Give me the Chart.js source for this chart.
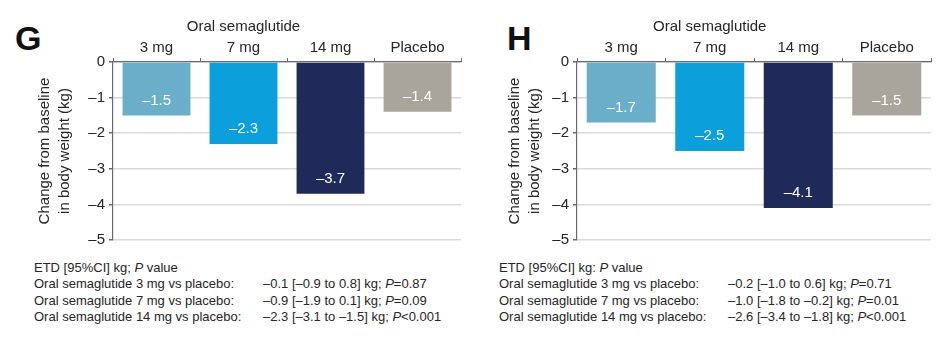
<!DOCTYPE html>
<html>
<head>
<meta charset="utf-8">
<script src="https://cdn.jsdelivr.net/npm/chart.js@4.4.1/dist/chart.umd.min.js"></script>
<style>
    html, body { margin: 0; padding: 0; background: #fff; }
    body { width: 940px; height: 343px; position: relative; overflow: hidden;
           font-family: 'Liberation Sans', Arial, sans-serif; color: #262626; }
    .panel { position: absolute; top: 0; width: 470px; height: 253px; }
    .letter { position: absolute; font-weight: bold; font-size: 34px; line-height: 34px; color: #111; }
    .etd { position: absolute; top: 260px; font-size: 13px; line-height: 16.3px; }
    .etd .row { white-space: nowrap; position: relative; }
    .etd .val { position: absolute; }
</style>
</head>
<body>
<div class="letter" style="left:15px; top:21px;">G</div>
<div class="letter" style="left:507px; top:21px;">H</div>
<div class="panel" style="left:0;"><canvas id="chart-g" width="470" height="253"></canvas></div>
<div class="panel" style="left:470px;"><canvas id="chart-h" width="470" height="253"></canvas></div>
<div class="etd" id="etd-g" style="left:34px;"></div>
<div class="etd" id="etd-h" style="left:499px;"></div>

<script>
const categories = ['3 mg', '7 mg', '14 mg', 'Placebo'];
const barColors = ['#6aaec9', '#0b9fdc', '#1f2a5b', '#a9a59c'];
const yTicks = [0, -1, -2, -3, -4, -5];

const valuesG = [-1.5, -2.3, -3.7, -1.4];
const valuesH = [-1.7, -2.5, -4.1, -1.5];

const etdHeaderG = 'ETD [95%CI] kg; <i>P</i> value';
const etdHeaderH = 'ETD [95%CI] kg: <i>P</i> value';
const etdLabels = [
    'Oral semaglutide 3 mg vs placebo:',
    'Oral semaglutide 7 mg vs placebo:',
    'Oral semaglutide 14 mg vs placebo:',
];
const etdValuesG = [
    '–0.1 [–0.9 to 0.8] kg; <i>P</i>=0.87',
    '–0.9 [–1.9 to 0.1] kg; <i>P</i>=0.09',
    '–2.3 [–3.1 to –1.5] kg; <i>P</i>&lt;0.001',
];
const etdValuesH = [
    '–0.2 [–1.0 to 0.6] kg; <i>P</i>=0.71',
    '–1.0 [–1.8 to –0.2] kg; <i>P</i>=0.01',
    '–2.6 [–3.4 to –1.8] kg; <i>P</i>&lt;0.001',
];

const FONT = "'Liberation Sans', Arial, sans-serif";
const TEXT = '#262626';

function fmt(v) {
    return v === 0 ? '0' : '–' + Math.abs(v).toString();
}

// bar value labels, white, near the end of each bar
const barLabels = {
    id: 'barLabels',
    afterDatasetsDraw(chart) {
        const ctx = chart.ctx;
        const meta = chart.getDatasetMeta(0);
        const data = chart.data.datasets[0].data;
        ctx.save();
        ctx.font = '15px ' + FONT;
        ctx.fillStyle = '#ffffff';
        ctx.textAlign = 'center';
        ctx.textBaseline = 'middle';
        meta.data.forEach((bar, i) => {
            ctx.fillText(fmt(data[i]), bar.x, bar.y - 15);
        });
        ctx.restore();
    }
};

// "Oral semaglutide" header over the first three categories
const groupHeader = {
    id: 'groupHeader',
    afterDraw(chart) {
        const x = chart.scales.x;
        const cx = (x.getPixelForValue(0) + x.getPixelForValue(2)) / 2;
        const ctx = chart.ctx;
        ctx.save();
        ctx.font = '15px ' + FONT;
        ctx.fillStyle = TEXT;
        ctx.textAlign = 'center';
        ctx.textBaseline = 'middle';
        ctx.fillText('Oral semaglutide', cx, 27);
        ctx.restore();
    }
};

function makeChart(id, values, yWidth) {
    const ctx = document.getElementById(id);
    return new Chart(ctx, {
        type: 'bar',
        data: {
            labels: categories,
            datasets: [{
                data: values,
                backgroundColor: barColors,
                borderWidth: 0,
                barPercentage: 0.78,
                categoryPercentage: 1.0,
            }],
        },
        options: {
            responsive: false,
            animation: false,
            events: [],
            layout: { padding: { left: 0, right: 9, top: 0, bottom: 7 } },
            plugins: {
                legend: { display: false },
                tooltip: { enabled: false },
            },
            scales: {
                x: {
                    position: 'top',
                    offset: true,
                    afterFit(scale) { scale.height = 62; },
                    grid: {
                        offset: true,
                        drawOnChartArea: false,
                        tickLength: 4,
                        tickColor: '#6b6b6b',
                    },
                    border: { display: true, color: '#6b6b6b', width: 1.2 },
                    ticks: {
                        color: TEXT,
                        font: { family: FONT, size: 15 },
                        padding: 1,
                        maxRotation: 0,
                    },
                },
                y: {
                    min: -5,
                    max: 0,
                    afterFit(scale) { scale.width = yWidth; },
                    afterBuildTicks(scale) { scale.ticks = yTicks.map(v => ({ value: v })); },
                    grid: {
                        color: '#d9d9d9',
                        lineWidth: 1.5,
                        tickLength: 4,
                        tickColor: '#6b6b6b',
                    },
                    border: { display: true, color: '#6b6b6b', width: 1.2 },
                    ticks: {
                        color: TEXT,
                        font: { family: FONT, size: 15 },
                        padding: 4,
                        callback: v => fmt(v),
                    },
                    title: {
                        display: true,
                        text: ['Change from baseline', 'in body weight (kg)'],
                        color: TEXT,
                        font: { family: FONT, size: 15, lineHeight: 1.33 },
                        padding: { top: 35, bottom: 0 },
                    },
                },
            },
        },
        plugins: [barLabels, groupHeader],
    });
}

function fillEtd(id, header, values, valueLeft) {
    const el = document.getElementById(id);
    let html = `<div class="row">${header}</div>`;
    etdLabels.forEach((label, i) => {
        html += `<div class="row">${label}<span class="val" style="left:${valueLeft}px">${values[i]}</span></div>`;
    });
    el.innerHTML = html;
}

makeChart('chart-g', valuesG, 113);
makeChart('chart-h', valuesH, 107);
fillEtd('etd-g', etdHeaderG, etdValuesG, 229);
fillEtd('etd-h', etdHeaderH, etdValuesH, 229);
</script>
</body>
</html>
